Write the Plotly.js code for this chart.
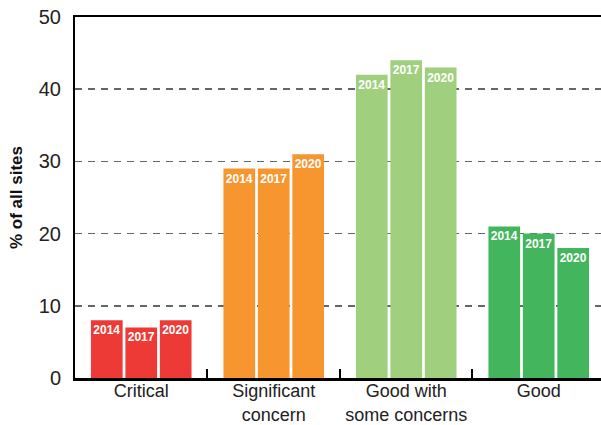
<!DOCTYPE html>
<html>
<head>
<meta charset="utf-8">
<script src="https://cdn.plot.ly/plotly-3.0.1.min.js"></script>
<style>html,body{margin:0;padding:0;background:#fff;}#chart{width:601px;height:425px;}</style>
</head>
<body>
<div id="chart"></div>
<script>
const categories = ["Critical", "Significant<br>concern", "Good with<br>some concerns", "Good"];
const years = ["2014", "2017", "2020"];
const values2014 = [8, 29, 42, 21];
const values2017 = [7, 29, 44, 20];
const values2020 = [8, 31, 43, 18];
const categoryColors = ["#EE3A36", "#F7962F", "#A0CF7E", "#43B65D"];
const yTicks = [0, 10, 20, 30, 40, 50];

const seriesValues = [values2014, values2017, values2020];
const traces = years.map((yr, i) => ({
  type: "bar",
  name: yr,
  x: categories,
  y: seriesValues[i],
  text: categories.map(() => yr),
  textposition: "inside",
  insidetextanchor: "end",
  textangle: 0,
  constraintext: "none",
  textfont: {family: "Liberation Sans, Arial, sans-serif", size: 12, color: "#ffffff", weight: "bold"},
  marker: {color: categoryColors, line: {width: 0}},
  hoverinfo: "skip"
}));

const layout = {
  width: 601, height: 425,
  margin: {l: 75, r: 0, t: 17, b: 47},
  paper_bgcolor: "#fff", plot_bgcolor: "#fff",
  showlegend: false,
  barmode: "group",
  bargap: 0.22,
  bargroupgap: 0.08,
  font: {family: "Liberation Sans, Arial, sans-serif", color: "#222"},
  xaxis: {
    type: "category",
    range: [-0.5, 3.47],
    showline: true, linecolor: "#000", linewidth: 2.5, mirror: true,
    ticks: "inside", tickson: "boundaries", ticklen: 9, tickwidth: 2, tickcolor: "#000",
    ticklabelstandoff: -5,
    showgrid: false, zeroline: false,
    tickfont: {size: 18, color: "#222", family: "Liberation Sans, Arial, sans-serif"},
    fixedrange: true
  },
  yaxis: {
    range: [0, 50],
    tickvals: yTicks,
    ticktext: yTicks.map(String),
    showline: true, linecolor: "#000", linewidth: 2,
    ticks: "", ticklabelstandoff: 8,
    showgrid: true, gridcolor: "#666", gridwidth: 1.5, griddash: "7px,6px",
    zeroline: false,
    tickfont: {size: 20, color: "#222", family: "Liberation Sans, Arial, sans-serif"},
    title: {text: "% of all sites", font: {size: 17, color: "#111", weight: "bold"}, standoff: 12},
    fixedrange: true
  }
};

Plotly.newPlot("chart", traces, layout, {displayModeBar: false, staticPlot: true});
</script>
</body>
</html>
